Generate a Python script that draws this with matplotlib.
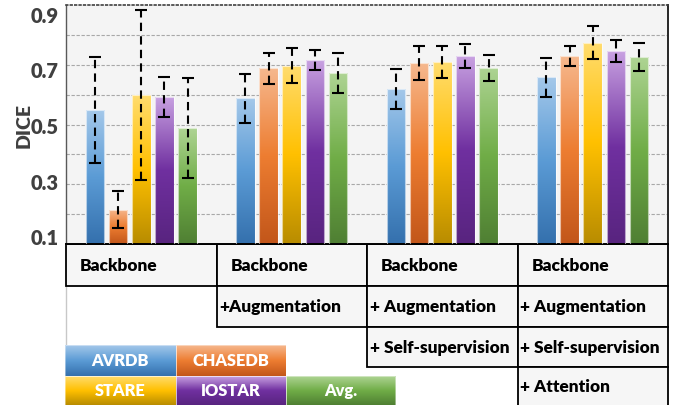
import numpy as np
import matplotlib
matplotlib.use('Agg')
import matplotlib.pyplot as plt
from matplotlib.colors import LinearSegmentedColormap
from matplotlib.patches import Rectangle

plt.rcParams['font.family'] = ['Lato', 'DejaVu Sans']
plt.rcParams['font.weight'] = 'bold'

W, H = 684, 406

# ── Data ─────────────────────────────────────────────────────
datasets = ['AVRDB', 'CHASEDB', 'STARE', 'IOSTAR', 'Avg.']
avrdb    = [0.554, 0.597, 0.630, 0.672]
chasedb  = [0.195, 0.704, 0.723, 0.748]
stare    = [0.608, 0.714, 0.727, 0.797]
iostar   = [0.601, 0.735, 0.749, 0.767]
avg      = [0.489, 0.687, 0.706, 0.745]
avrdb_err   = [0.190, 0.088, 0.072, 0.070]
chasedb_err = [0.067, 0.057, 0.062, 0.036]
stare_err   = [0.307, 0.062, 0.057, 0.058]
iostar_err  = [0.071, 0.037, 0.042, 0.040]
avg_err     = [0.180, 0.073, 0.047, 0.050]
yticks = [0.1, 0.3, 0.5, 0.7, 0.9]

table_rows = [
    ['Backbone', 'Backbone', 'Backbone', 'Backbone'],
    [None, '+Augmentation', '+ Augmentation', '+ Augmentation'],
    [None, None, '+ Self-supervision', '+ Self-supervision'],
    [None, None, None, '+ Attention'],
]

values = [avrdb, chasedb, stare, iostar, avg]
errors = [avrdb_err, chasedb_err, stare_err, iostar_err, avg_err]

# (light top, base, dark bottom)
grads = [
    ('#a4c8ea', '#5b9bd5', '#3470ad'),
    ('#f6b88e', '#ed7d31', '#c2561a'),
    ('#ffdc6e', '#ffc000', '#b88c00'),
    ('#c9a2e2', '#7030a0', '#58247f'),
    ('#aed493', '#70ad47', '#4f7f33'),
]
cmaps = [LinearSegmentedColormap.from_list(f'g{i}', g) for i, g in enumerate(grads)]
grad_img = np.linspace(0, 1, 256).reshape(-1, 1)

fig = plt.figure(figsize=(W / 100, H / 100), dpi=100, facecolor='white')

# overlay axes in pixel coordinates for the table and legend
ov = fig.add_axes([0, 0, 1, 1])
ov.set_xlim(0, W)
ov.set_ylim(H, 0)
ov.axis('off')
ov.patch.set_alpha(0)

# ── Main plot ────────────────────────────────────────────────
L, R, T, B = 66, 668, 6, 245
ax = fig.add_axes([L / W, 1 - B / H, (R - L) / W, (B - T) / H])
ax.set_facecolor('#f4f4f4')
ymin, ymax = 0.0712, 0.9324
ax.set_ylim(ymin, ymax)
ax.set_xlim(-0.5, len(avrdb) - 0.5)

for k in range(1, 8):
    ax.plot([0, 1], [k / 8, k / 8], transform=ax.transAxes, color='#a8a8a8',
            lw=0.8, ls=(0, (3, 1.5)), zorder=1)

x = np.arange(len(avrdb))
pitch, width = 0.154, 0.123
for i, (vals, errs) in enumerate(zip(values, errors)):
    xs = x + (i - 2) * pitch
    bars = ax.bar(xs, vals, width=width, bottom=0, color='none',
                  edgecolor=(1, 1, 1, 0.6), linewidth=0.8, zorder=3)
    for b, v in zip(bars, vals):
        im = ax.imshow(grad_img, cmap=cmaps[i], aspect='auto', origin='upper',
                       extent=(b.get_x(), b.get_x() + width, ymin, v), zorder=2)
        im.set_clip_path(b)
    eb = ax.errorbar(xs, vals, yerr=errs, fmt='none', ecolor='black',
                     elinewidth=1.5, capsize=4, capthick=1.5, zorder=4)
    eb[2][0].set_linestyle((0, (4, 2.5)))

ax.set_xlim(-0.5, len(avrdb) - 0.5)
ax.set_ylim(ymin, ymax)
ax.set_xticks([])
ax.set_yticks(yticks)
ax.set_yticklabels([f'{t:.1f}' for t in yticks], fontsize=14.5,
                   color='#404040', fontweight='heavy')
ax.tick_params(axis='y', length=0, pad=5)
ax.set_ylabel('DICE', fontsize=14, color='#404040', fontweight='heavy', labelpad=-1)
ax.spines['left'].set_color('#595959')
ax.spines['left'].set_linewidth(1)
ax.spines['top'].set_color('#404040')
ax.spines['top'].set_linestyle(':')
ax.spines['top'].set_linewidth(1.2)
ax.spines['right'].set_color('#262626')
ax.spines['right'].set_linewidth(1.4)
ax.spines['bottom'].set_color('black')
ax.spines['bottom'].set_linewidth(1.4)

# ── Table below the plot ─────────────────────────────────────
col_edges = [L + (R - L) * c / 4 for c in range(5)]
row_edges = [245, 286.5, 327.5, 368, 412]
for r, row in enumerate(table_rows):
    for c, txt in enumerate(row):
        if txt is None:
            continue
        x0, x1 = col_edges[c], col_edges[c + 1]
        y0, y1 = row_edges[r], row_edges[r + 1]
        ov.add_patch(Rectangle((x0, y0), x1 - x0, y1 - y0, facecolor='#f6f6f6',
                               edgecolor='black', linewidth=1.3, zorder=2))
        pad = 14 if r == 0 else 2.5
        yc = (y0 + min(y1, 406)) / 2
        ov.text(x0 + pad, yc, txt, ha='left', va='center', fontsize=12.4,
                color='black', fontweight='heavy', zorder=3)

ov.plot([65.5, 65.5], [287, 406], color='#c8c8c8', lw=1, zorder=1)

# ── Legend boxes ─────────────────────────────────────────────
leg_x = [65, 175.7, 285.7, 395]
leg_y = [346, 377, 406]
leg_pos = [(0, 0), (0, 1), (1, 0), (1, 1), (1, 2)]
for i, (name, (r, c)) in enumerate(zip(datasets, leg_pos)):
    x0, x1 = leg_x[c], leg_x[c + 1]
    y0, y1 = leg_y[r], leg_y[r + 1]
    ov.imshow(grad_img, cmap=cmaps[i], aspect='auto', origin='upper',
              extent=(x0, x1, y1, y0), zorder=2)
    ov.add_patch(Rectangle((x0, y0), x1 - x0, y1 - y0, facecolor='none',
                           edgecolor=(1, 1, 1, 0.5), linewidth=0.6, zorder=3))
    ov.text((x0 + x1) / 2, (y0 + y1) / 2, name, ha='center', va='center',
            fontsize=11.8, color='white', fontweight='heavy', zorder=4)
ov.set_xlim(0, W)
ov.set_ylim(H, 0)

fig.savefig('out.png', dpi=100, facecolor='white')
